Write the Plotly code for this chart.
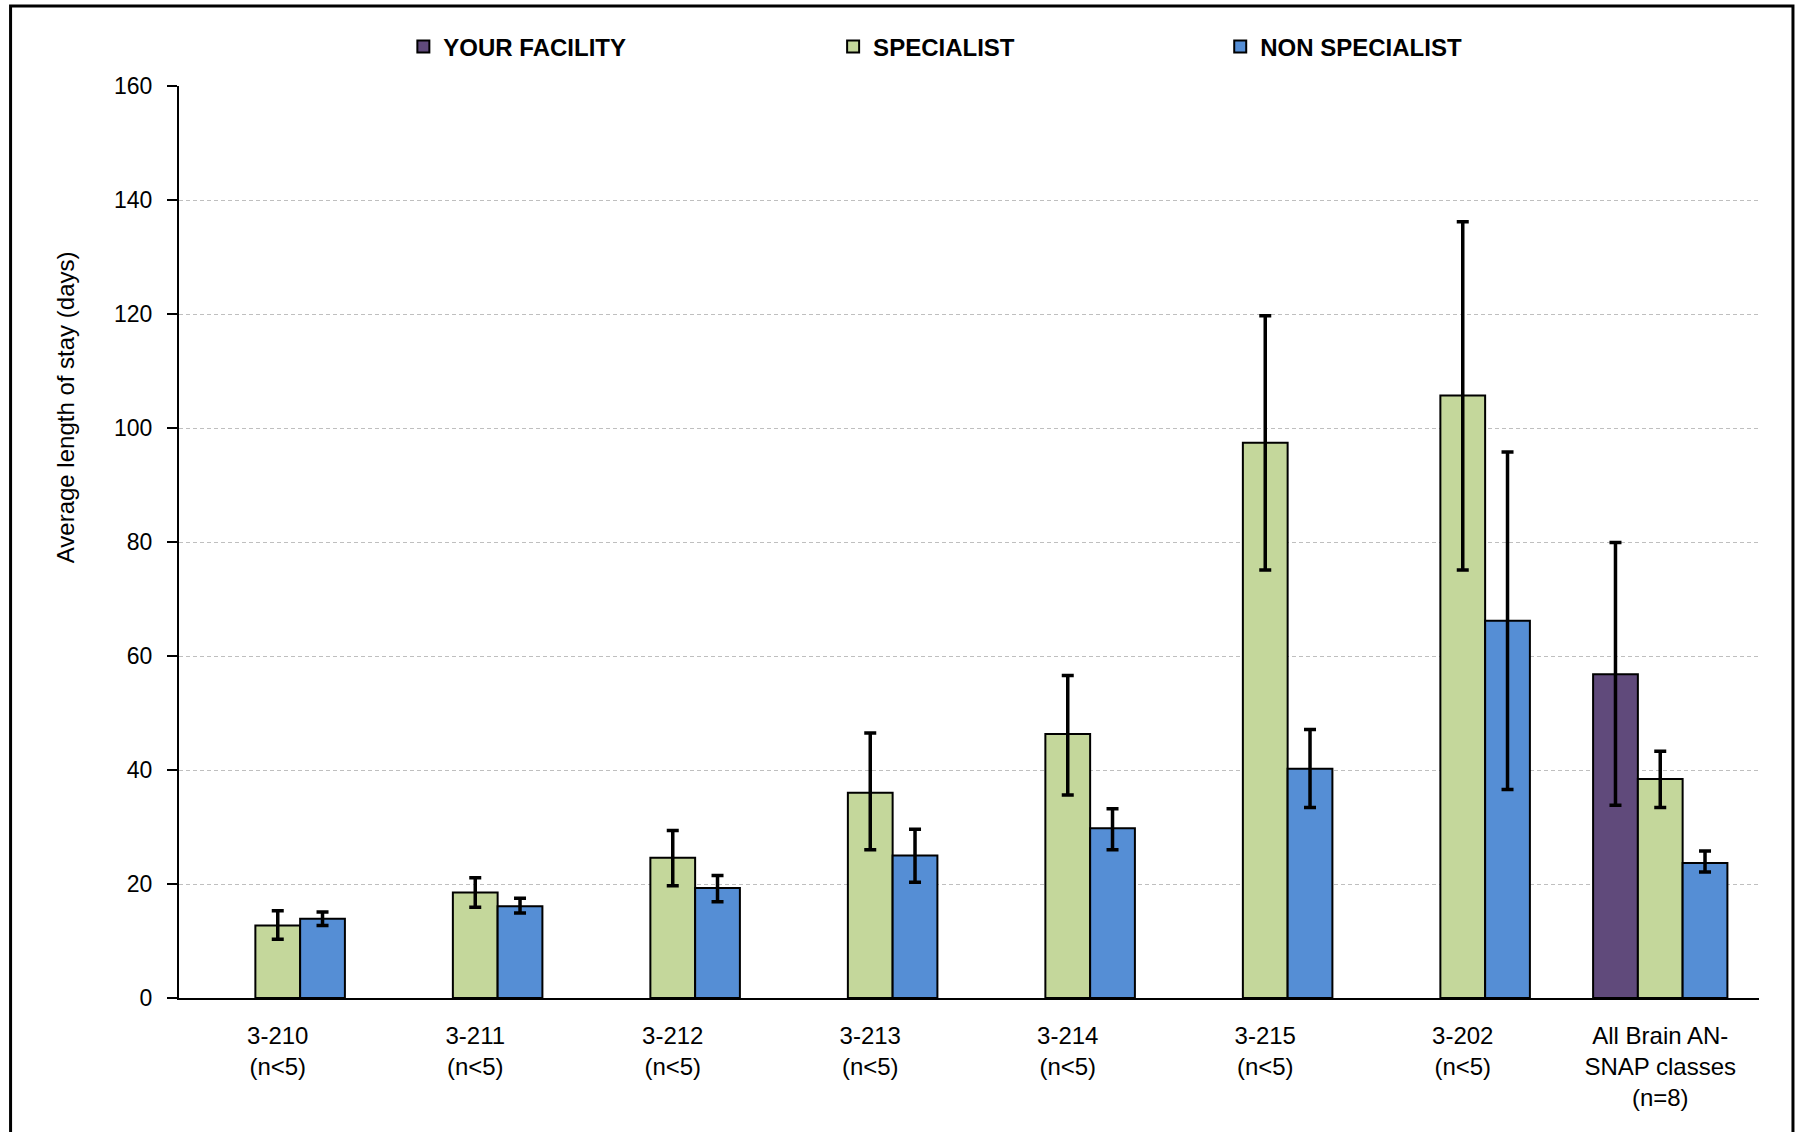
import plotly.graph_objects as go

# Length-of-stay by AN-SNAP class
categories = [
    "3-210<br>(n<5)", "3-211<br>(n<5)", "3-212<br>(n<5)", "3-213<br>(n<5)",
    "3-214<br>(n<5)", "3-215<br>(n<5)", "3-202<br>(n<5)",
    "All Brain AN-<br>SNAP classes<br>(n=8)",
]

facility = [None, None, None, None, None, None, None, 56.8]
facility_hi = [None, None, None, None, None, None, None, 79.9]
facility_lo = [None, None, None, None, None, None, None, 33.8]

specialist = [12.7, 18.5, 24.6, 36.0, 46.3, 97.4, 105.7, 38.4]
specialist_hi = [15.3, 21.1, 29.4, 46.5, 56.6, 119.7, 136.2, 43.3]
specialist_lo = [10.3, 15.9, 19.7, 26.0, 35.6, 75.1, 75.1, 33.4]

non_specialist = [13.9, 16.1, 19.3, 25.0, 29.8, 40.2, 66.2, 23.7]
non_specialist_hi = [15.1, 17.5, 21.5, 29.6, 33.2, 47.1, 95.8, 25.8]
non_specialist_lo = [12.7, 14.9, 16.9, 20.3, 26.0, 33.4, 36.6, 22.1]

y_ticks = [0, 20, 40, 60, 80, 100, 120, 140, 160]

FONT = "Liberation Sans, Arial, sans-serif"


def spread(vals, bound, upper):
    out = []
    for v, b in zip(vals, bound):
        if v is None or b is None:
            out.append(None)
        else:
            out.append(round(b - v, 2) if upper else round(v - b, 2))
    return out


def bar(name, vals, hi, lo, color, legend):
    return go.Bar(
        name=name,
        x=categories,
        y=vals,
        marker=dict(color=color, line=dict(color="black", width=2)),
        error_y=dict(
            type="data",
            symmetric=False,
            array=spread(vals, hi, True),
            arrayminus=spread(vals, lo, False),
            color="black",
            thickness=3.5,
            width=6,
        ),
        legend=legend,
    )


fig = go.Figure()
fig.add_trace(bar("YOUR FACILITY", facility, facility_hi, facility_lo, "#604A7B", "legend"))
fig.add_trace(bar("SPECIALIST", specialist, specialist_hi, specialist_lo, "#C4D79B", "legend2"))
fig.add_trace(bar("NON SPECIALIST", non_specialist, non_specialist_hi, non_specialist_lo, "#558ED5", "legend3"))

legend_font = dict(family=FONT, size=24, color="black", weight="bold")


def legend_at(x):
    return dict(
        x=x, y=1.043, xanchor="left", yanchor="middle",
        orientation="h", font=legend_font, bgcolor="rgba(0,0,0,0)",
        itemwidth=30,
    )


fig.update_layout(
    width=1799,
    height=1132,
    margin=dict(l=179, r=40, t=86, b=134),
    paper_bgcolor="white",
    plot_bgcolor="white",
    barmode="group",
    bargap=0.32,
    bargroupgap=0,
    showlegend=True,
    legend=legend_at(0.142),
    legend2=legend_at(0.414),
    legend3=legend_at(0.659),
    xaxis=dict(
        showline=True,
        linecolor="black",
        linewidth=2,
        ticks="",
        tickfont=dict(family=FONT, size=24, color="black"),
        ticklabelstandoff=15,
        showgrid=False,
        zeroline=False,
    ),
    yaxis=dict(
        range=[0, 160],
        tickvals=y_ticks,
        showline=True,
        linecolor="black",
        linewidth=2,
        ticks="outside",
        ticklen=10,
        tickwidth=2,
        tickcolor="black",
        tickfont=dict(family=FONT, size=23, color="black"),
        ticklabelstandoff=10,
        showgrid=True,
        gridcolor="#BFBFBF",
        gridwidth=1,
        griddash="4px,3px",
        zeroline=False,
    ),
    annotations=[
        dict(
            text="Average length of stay (days)",
            xref="paper", yref="paper",
            x=-0.072, y=0.648,
            xanchor="center", yanchor="middle",
            textangle=-90,
            showarrow=False,
            font=dict(family=FONT, size=24, color="black"),
        )
    ],
    shapes=[
        # legend area masks the top gridline
        dict(
            type="rect", layer="between",
            xref="paper", yref="paper",
            x0=0.010, x1=0.947, y0=0.99, y1=1.01,
            fillcolor="white", line=dict(width=0),
        ),
        # outer chart frame
        dict(
            type="rect", layer="above",
            xref="paper", yref="paper",
            x0=-0.1066, x1=1.0215, y0=-0.16, y1=1.0877,
            fillcolor="rgba(0,0,0,0)", line=dict(color="black", width=3),
        ),
    ],
)

fig.write_html("out.html")
